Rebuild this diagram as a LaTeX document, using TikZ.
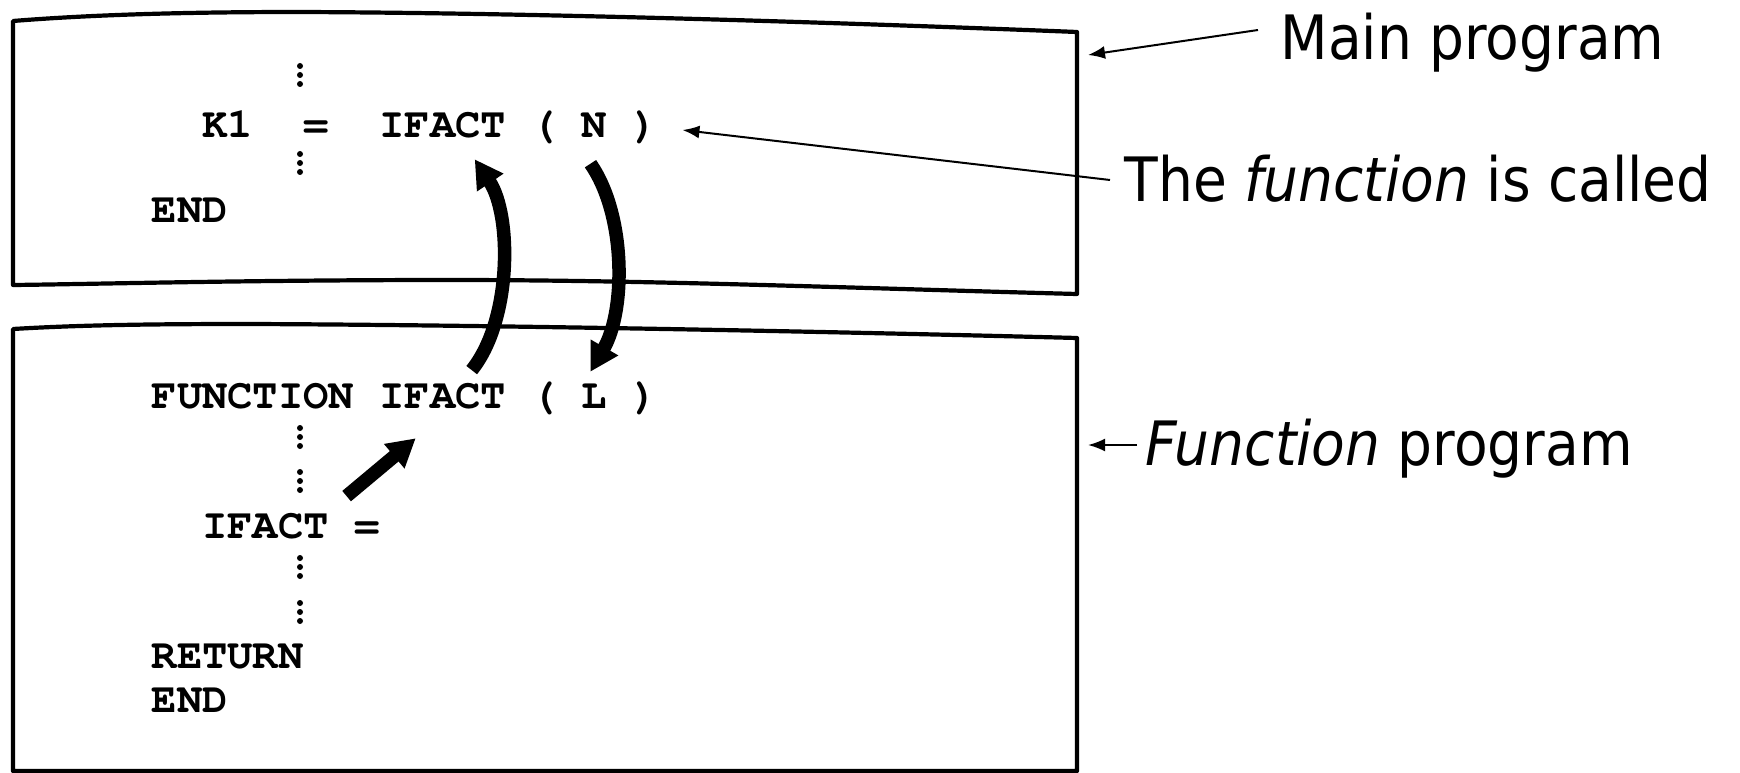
\documentclass[tikz,border=0pt]{standalone}
\usepackage{fontspec}
\setmainfont{Liberation Serif}
\newfontfamily\codefont{texgyrecursor}[Extension=.otf, UprightFont=*-regular, BoldFont=*-bold, ItalicFont=*-italic, BoldItalicFont=*-bolditalic]
\newfontfamily\lblfont{DejaVu Sans Condensed}
\usetikzlibrary{arrows.meta}
\begin{document}
\begin{tikzpicture}[x=0.01cm,y=-0.01cm,
  code/.style={font={\codefont\bfseries\fontsize{12pt}{14pt}\selectfont}, inner sep=0pt, anchor=base west},
  lbl/.style={font={\lblfont\fontsize{17.4pt}{20pt}\selectfont}, inner sep=0pt, anchor=base west},
  boxline/.style={line width=0.042cm, line join=round},
  thickarrow/.style={line width=0.135cm, -{Triangle[length=0.28cm,width=0.30cm]}},
  thinarrow/.style={line width=0.02cm, -{Latex[length=0.17cm,width=0.13cm]}},
  vdot/.style={fill=black}
]
\useasboundingbox (0,0) rectangle (1740,773);

% main program box
\draw[boxline] (13,285) -- (13,21) .. controls (100,14) and (200,12) .. (300,12)
  .. controls (550,13) and (850,23) .. (1077,32) -- (1077,294)
  .. controls (850,288) and (650,280) .. (450,280)
  .. controls (250,280) and (100,284) .. (13,285) -- cycle;
% function program box
\draw[boxline] (13,771) -- (13,329) .. controls (80,325) and (150,324) .. (250,324)
  .. controls (500,325) and (850,332) .. (1077,338) -- (1077,771) -- cycle;

% main program code
\node[code] (k1)    at (201.6,137) {K1};
\node[code] (eqT)   at (302.8,137) {=};
\node[code] (ifT)   at (378.7,137) {IFACT};
\node[code] (lpT)   at (530.5,137) {(};
\node[code] (nT)    at (581.1,137) {N};
\node[code] (rpT)   at (631.7,137) {)};
\node[code] (endT)  at (151,222) {END};
\foreach \y in {66,75,84,154,163,172} \fill[vdot] (300,\y) circle[radius=0.03cm];

% function program code
\node[code] (fun)   at (151,408) {FUNCTION};
\node[code] (ifB)   at (378.7,408) {IFACT};
\node[code] (lpB)   at (530.5,408) {(};
\node[code] (lB)    at (581.1,408) {L};
\node[code] (rpB)   at (631.7,408) {)};
\node[code] (ifC)   at (201.6,538) {IFACT};
\node[code] (eqC)   at (353.4,538) {=};
\node[code] (ret)   at (151,668) {RETURN};
\node[code] (endB)  at (151,712) {END};
\foreach \y in {428,437,446,472,481,490,558,567,576,603,612,621} \fill[vdot] (300,\y) circle[radius=0.03cm];

% thick arrows
\draw[thickarrow] ([shift={(29,-12)}]ifB.north) .. controls (512,320) and (512,215) .. ([shift={(32,21)}]ifT.south);
\draw[thickarrow] ([shift={(-4,26)}]nT.south) .. controls (626,215) and (626,310) .. ([shift={(-4,-11)}]lB.north);
\draw[thickarrow] ([shift={(17,-16)}]ifC.north east) -- ([shift={(-27,29)}]ifB.south);

% labels
\node[lbl] (mainlbl) at (1280,60) {Main program};
\node[lbl] (calllbl) at (1124,202) {The \textit{function} is called};
\node[lbl] (funclbl) at (1145,465) {\textit{Function} program};

\coordinate (mainTip) at (1088,55);
\coordinate (funcTip) at (1088,445);
\draw[thinarrow] ([shift={(-22,-30)}]mainlbl.base west) -- (mainTip);
\draw[thinarrow] ([shift={(-14,-22)}]calllbl.base west) -- ([shift={(24,-7)}]rpT.base east);
\draw[thinarrow] ([shift={(-8,-20)}]funclbl.base west) -- (funcTip);
\end{tikzpicture}
\end{document}
